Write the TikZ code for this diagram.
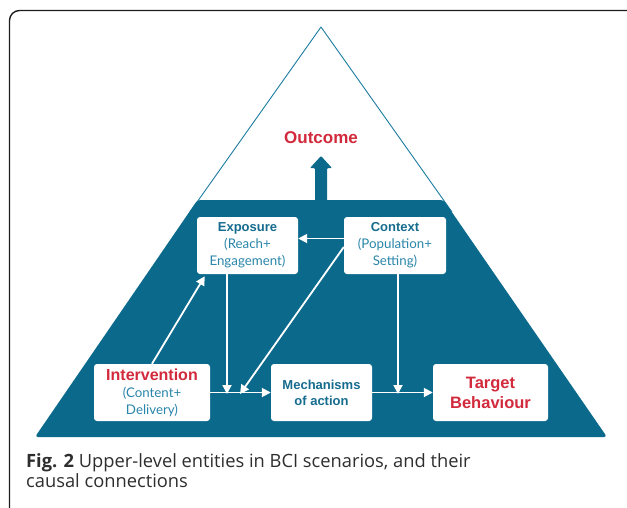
\documentclass[tikz,border=0pt]{standalone}
\usepackage{fontspec}
\setmainfont{Open Sans}
\newfontfamily\arialf{Liberation Sans}
\newfontfamily\latof{Lato}
\usetikzlibrary{arrows.meta,calc}
\definecolor{darkteal}{HTML}{0B6A8B}
\definecolor{lineteal}{HTML}{1C7CA1}
\definecolor{redtxt}{HTML}{D22A3C}
\definecolor{titleteal}{HTML}{166C8E}
\definecolor{subteal}{HTML}{2A86AA}
\definecolor{framegray}{HTML}{1E1E1E}
\newcommand{\ttl}[1]{{\arialf\bfseries\fontsize{13}{17}\selectfont\color{titleteal}#1}}
\newcommand{\rttl}[1]{{\arialf\bfseries\fontsize{16}{17}\selectfont\color{redtxt}#1}}
\newcommand{\sub}[1]{{\latof\fontsize{13.3}{17}\selectfont\color{subteal}#1}}
\tikzset{
  box/.style={fill=white, rounded corners=3pt, inner sep=0pt, align=center, minimum height=57pt, font=\fontsize{13}{17}\selectfont},
  flow/.style={white, line width=1.8pt, -{Triangle[length=9pt,width=9pt]}},
}
\begin{document}
\begin{tikzpicture}[x=1pt,y=-1pt]
\useasboundingbox (0,0) rectangle (627,507);
\fill[white] (0,0) rectangle (627,507);
% frame
\draw[framegray, line width=1.4pt, rounded corners=10pt] (9.5,520) -- (9.5,10.5) -- (640,10.5);
% triangle outline
\draw[lineteal, line width=0.9pt, line join=round] (190,212) -- (321,27) -- (452,212);
% trapezoid
\fill[darkteal, rounded corners=3pt] (197.5,200) -- (443.5,200) -- (607,437) -- (35,437) -- cycle;
% thick arrow to outcome
\fill[darkteal, rounded corners=1pt] (315,201) -- (315,168) -- (310,168) -- (321,156) -- (332,168) -- (327,168) -- (327,201) -- cycle;
\node[font=\arialf\bfseries\fontsize{17}{20}\selectfont, text=redtxt] (out) at (321,138) {Outcome};
% boxes
\node[box, minimum width=101pt] (exp) at (247.5,245.5) {\ttl{Exposure}\\\sub{(Reach+}\\\sub{Engagement)}};
\node[box, minimum width=102pt] (ctx) at (395,245.5) {\ttl{Context}\\\sub{(Population+}\\\sub{Setting)}};
\node[box, minimum width=116pt] (int) at (152,392.5) {\rttl{Intervention}\\\sub{(Content+}\\\sub{Delivery)}};
\node[box, minimum width=101pt, font=\fontsize{13}{16}\selectfont] (mech) at (321.5,392.5) {\ttl{Mechanisms}\\\ttl{of action}};
\node[box, minimum width=115pt, font=\fontsize{16.5}{20}\selectfont] (tgt) at (490.5,392.5) {{\arialf\bfseries\color{redtxt}Target}\\{\arialf\bfseries\color{redtxt}Behaviour}};
% junction points
\coordinate (j1) at (227,394);
\coordinate (j2) at (240,394);
\coordinate (j3) at (398,394);
% connectors
\draw[flow] (int.north) -- ([xshift=8pt,yshift=-2pt]exp.south west);
\draw[flow] ([yshift=7pt]ctx.west) -- ([yshift=7pt]exp.east);
\draw[flow] ([yshift=-1.5pt]ctx.west) -- (j2);
\draw[flow] ([xshift=-20.5pt]exp.south) -- (j1);
\draw[flow] ([xshift=3pt]ctx.south) -- (j3);
\draw[flow] (int.east) -- (mech.west);
\draw[flow] (mech.east) -- (tgt.west);
% caption
\node[anchor=base west, align=left, inner sep=0pt, font=\fontsize{18.3}{19.5}\selectfont, text=black!82] (cap) at (26,487) {\textbf{Fig. 2} Upper-level entities in BCI scenarios, and their\\causal connections};
\end{tikzpicture}
\end{document}
